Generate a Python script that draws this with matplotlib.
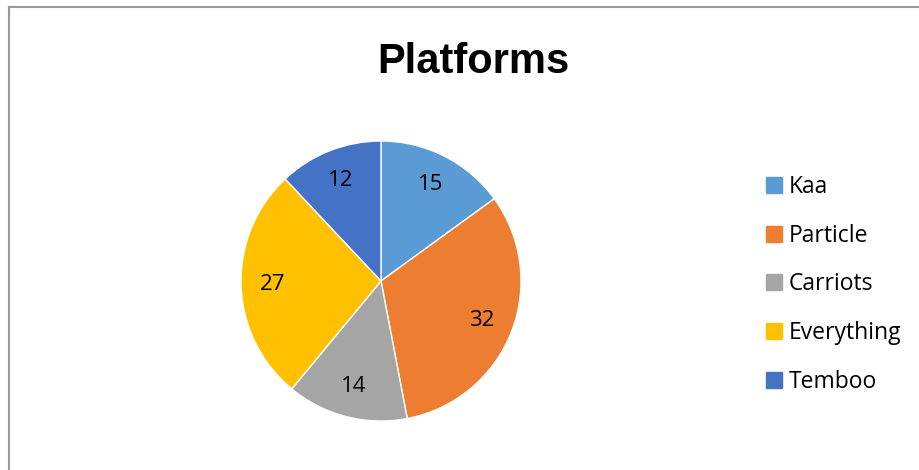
import matplotlib.pyplot as plt
from matplotlib.lines import Line2D

labels = ["Kaa", "Particle", "Carriots", "Everything", "Temboo"]
values = [15, 32, 14, 27, 12]
colors = ["#5B9BD5", "#ED7D31", "#A5A5A5", "#FFC000", "#4472C4"]

plt.rcParams['font.family'] = ['Open Sans', 'DejaVu Sans']

W, H = 919, 470
fig = plt.figure(figsize=(W / 100, H / 100), dpi=100)

# pie centre (381, 281), radius 140 px
cx, cy, r = 381, 281, 140
ax = fig.add_axes([(cx - r) / W, (H - cy - r) / H, 2 * r / W, 2 * r / H])
total = sum(values)
wedges, texts, autotexts = ax.pie(
    values, colors=colors, startangle=90, counterclock=False,
    autopct=lambda p: f"{p * total / 100:.0f}", pctdistance=0.775,
    wedgeprops=dict(edgecolor="white", linewidth=1),
    textprops=dict(fontsize=16, color="#000000"))
ax.set_xlim(-1, 1)
ax.set_ylim(-1, 1)
ax.set_aspect("equal")

fig.text(473 / W, 1 - 62 / H, "Platforms", ha="center", va="center",
         fontsize=30, fontweight="bold", family=["Liberation Sans", "DejaVu Sans"])

handles = [Line2D([0], [0], marker="s", linestyle="none", markersize=11,
                  markerfacecolor=c, markeredgecolor=c) for c in colors]
fig.legend(handles, labels, loc="upper left",
           bbox_to_anchor=(767 / W, 1 - 175 / H), frameon=False,
           fontsize=16.5, handlelength=0.65, handletextpad=0.28,
           labelspacing=1.08, borderpad=0, borderaxespad=0)

# border lines visible on the top and left edges
fig.add_artist(Line2D([8.5 / W, 8.5 / W], [0, 1 - 6.5 / H], transform=fig.transFigure,
                      color="#999999", linewidth=1.5))
fig.add_artist(Line2D([8.5 / W, 1], [1 - 6.5 / H, 1 - 6.5 / H], transform=fig.transFigure,
                      color="#999999", linewidth=1.5))

fig.savefig("out.png", dpi=100)
